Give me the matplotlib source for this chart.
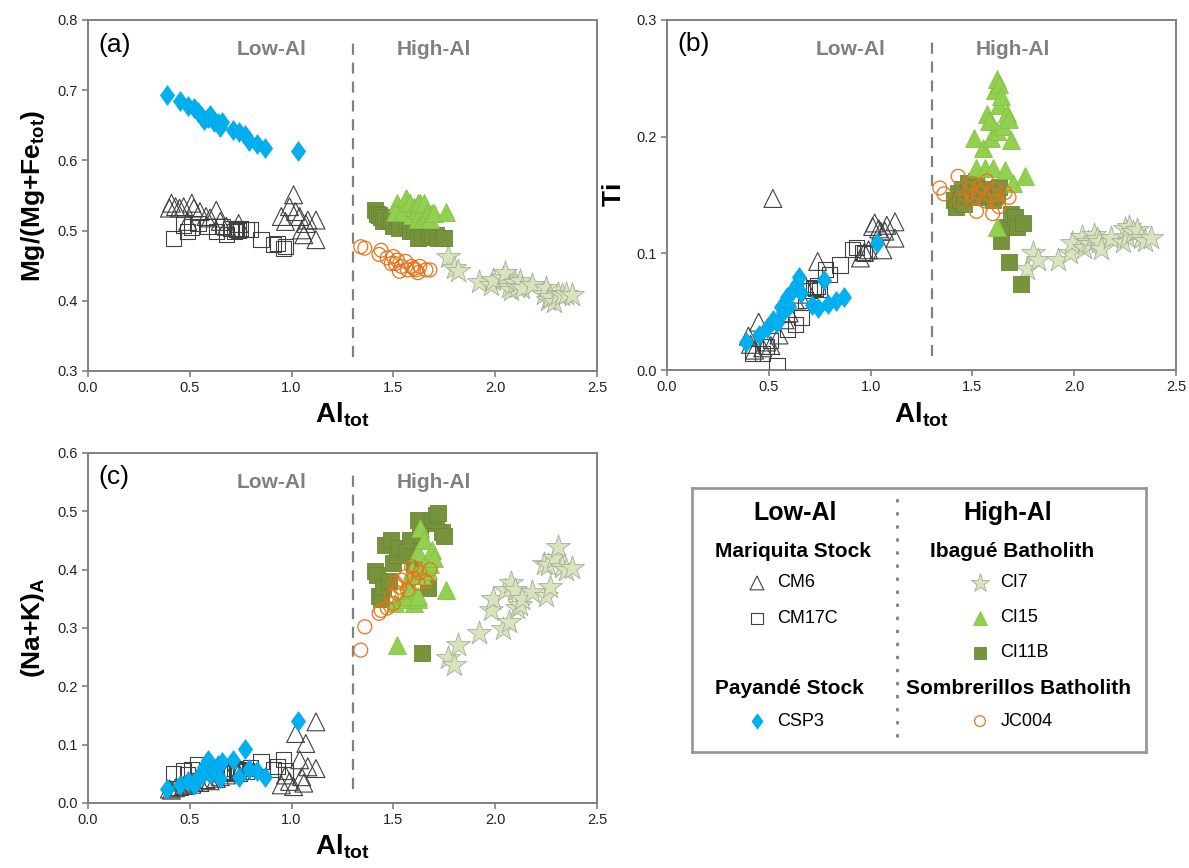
import matplotlib
matplotlib.use("Agg")
import matplotlib.pyplot as plt
from matplotlib.path import Path

plt.rcParams['font.family'] = ['Liberation Sans', 'DejaVu Sans']
plt.rcParams['mathtext.fontset'] = 'custom'
plt.rcParams['mathtext.rm'] = 'Liberation Sans'
plt.rcParams['mathtext.bf'] = 'Liberation Sans:bold'

# ---- Low-Al: Mariquita Stock ----
cm6_al = [0.40, 0.41, 0.43, 0.45, 0.47, 0.49, 0.51, 0.52, 0.55, 0.58, 0.60, 0.63, 0.65, 0.68,
          0.74, 0.95, 0.97, 0.99, 1.01, 1.02, 1.04, 1.05, 1.06, 1.07, 1.08, 1.12, 1.12]
cm6_mg = [0.532, 0.539, 0.534, 0.532, 0.534, 0.513, 0.539, 0.532, 0.527, 0.520, 0.518, 0.529, 0.513, 0.506,
          0.510, 0.520, 0.513, 0.534, 0.551, 0.527, 0.520, 0.501, 0.494, 0.510, 0.515, 0.515, 0.487]
cm6_ti = [0.029, 0.022, 0.017, 0.041, 0.019, 0.024, 0.021, 0.147, 0.030, 0.043, 0.049, 0.060, 0.065, 0.072,
          0.093, 0.096, 0.101, 0.103, 0.123, 0.126, 0.121, 0.119, 0.103, 0.119, 0.124, 0.127, 0.113]
cm6_nak = [0.024, 0.022, 0.026, 0.028, 0.030, 0.034, 0.032, 0.036, 0.035, 0.040, 0.038, 0.042, 0.045, 0.048,
           0.052, 0.031, 0.048, 0.037, 0.028, 0.119, 0.074, 0.045, 0.034, 0.102, 0.062, 0.139, 0.059]

cm17c_al = [0.42, 0.47, 0.49, 0.51, 0.54, 0.59, 0.63, 0.66, 0.68, 0.70, 0.72, 0.73, 0.74, 0.75,
            0.78, 0.80, 0.85, 0.91, 0.93, 0.96, 0.97]
cm17c_mg = [0.489, 0.508, 0.499, 0.505, 0.510, 0.506, 0.499, 0.506, 0.494, 0.503, 0.499, 0.501, 0.500, 0.503,
            0.501, 0.501, 0.487, 0.480, 0.482, 0.475, 0.477]
cm17c_ti = [0.014, 0.014, 0.020, 0.025, 0.004, 0.035, 0.039, 0.045, 0.060, 0.068, 0.071, 0.070, 0.072, 0.069,
            0.086, 0.082, 0.090, 0.103, 0.105, 0.101, 0.100]
cm17c_nak = [0.051, 0.055, 0.048, 0.058, 0.065, 0.055, 0.055, 0.050, 0.054, 0.052, 0.059, 0.055, 0.057, 0.054,
             0.055, 0.060, 0.071, 0.057, 0.062, 0.074, 0.055]

# ---- Low-Al: Payandé Stock ----
csp3_al = [0.39, 0.45, 0.49, 0.52, 0.54, 0.56, 0.57, 0.59, 0.60, 0.62, 0.64, 0.65, 0.66, 0.71,
           0.74, 0.77, 0.79, 0.83, 0.87, 1.03]
csp3_mg = [0.693, 0.684, 0.677, 0.674, 0.669, 0.662, 0.657, 0.660, 0.665, 0.655, 0.653, 0.648, 0.655, 0.643,
           0.641, 0.636, 0.627, 0.624, 0.617, 0.613]
csp3_ti = [0.024, 0.030, 0.036, 0.043, 0.040, 0.054, 0.050, 0.063, 0.055, 0.069, 0.074, 0.080, 0.066, 0.056,
           0.053, 0.077, 0.057, 0.059, 0.063, 0.109]
csp3_nak = [0.024, 0.031, 0.037, 0.031, 0.045, 0.048, 0.062, 0.074, 0.050, 0.054, 0.065, 0.042, 0.070, 0.074,
            0.045, 0.092, 0.059, 0.054, 0.045, 0.141]

# ---- High-Al: Ibagué Batholith ----
ci7_al = [1.77, 1.80, 1.82, 1.92, 1.98, 1.99, 2.04, 2.05, 2.07, 2.08, 2.10, 2.11, 2.12, 2.13,
          2.18, 2.24, 2.25, 2.26, 2.27, 2.29, 2.31, 2.33, 2.35, 2.38]
ci7_mg = [0.463, 0.446, 0.442, 0.427, 0.423, 0.430, 0.432, 0.440, 0.420, 0.415, 0.425, 0.420, 0.428, 0.418,
          0.423, 0.410, 0.418, 0.401, 0.405, 0.398, 0.410, 0.408, 0.410, 0.408]
ci7_ti = [0.087, 0.100, 0.094, 0.094, 0.100, 0.109, 0.114, 0.105, 0.110, 0.108, 0.116, 0.112, 0.110, 0.104,
          0.113, 0.110, 0.121, 0.114, 0.123, 0.118, 0.120, 0.113, 0.111, 0.113]
ci7_nak = [0.248, 0.237, 0.271, 0.291, 0.331, 0.350, 0.299, 0.365, 0.310, 0.377, 0.365, 0.334, 0.340, 0.350,
           0.362, 0.410, 0.354, 0.408, 0.370, 0.420, 0.439, 0.405, 0.400, 0.402]

ci15_al = [1.52, 1.51, 1.55, 1.56, 1.57, 1.58, 1.59, 1.60, 1.61, 1.62, 1.62, 1.62, 1.63, 1.63,
           1.64, 1.65, 1.66, 1.67, 1.68, 1.69, 1.70, 1.76]
ci15_mg = [0.539, 0.527, 0.527, 0.546, 0.540, 0.539, 0.522, 0.534, 0.529, 0.529, 0.539, 0.517, 0.539, 0.525,
           0.517, 0.539, 0.522, 0.525, 0.517, 0.525, 0.525, 0.527]
ci15_ti = [0.173, 0.199, 0.190, 0.173, 0.219, 0.213, 0.199, 0.173, 0.240, 0.249, 0.205, 0.123, 0.245, 0.227,
           0.235, 0.209, 0.171, 0.220, 0.215, 0.197, 0.160, 0.166]
ci15_nak = [0.271, 0.342, 0.350, 0.355, 0.380, 0.365, 0.400, 0.342, 0.390, 0.430, 0.350, 0.355, 0.471, 0.400,
            0.390, 0.450, 0.410, 0.400, 0.410, 0.434, 0.420, 0.365]

ci11b_al = [1.41, 1.42, 1.43, 1.44, 1.45, 1.46, 1.48, 1.49, 1.50, 1.52, 1.53, 1.56, 1.58, 1.60,
            1.62, 1.63, 1.64, 1.67, 1.68, 1.69, 1.71, 1.72, 1.74, 1.75]
ci11b_mg = [0.529, 0.524, 0.522, 0.519, 0.513, 0.520, 0.513, 0.515, 0.506, 0.513, 0.503, 0.510, 0.499, 0.500,
            0.489, 0.510, 0.491, 0.499, 0.491, 0.494, 0.494, 0.489, 0.489, 0.489]
ci11b_ti = [0.146, 0.140, 0.152, 0.146, 0.155, 0.142, 0.160, 0.150, 0.158, 0.162, 0.148, 0.155, 0.150, 0.146,
            0.150, 0.157, 0.111, 0.123, 0.093, 0.134, 0.131, 0.123, 0.074, 0.126]
ci11b_nak = [0.397, 0.390, 0.354, 0.350, 0.370, 0.442, 0.380, 0.451, 0.411, 0.425, 0.437, 0.430, 0.450, 0.405,
             0.485, 0.460, 0.257, 0.368, 0.480, 0.485, 0.494, 0.497, 0.465, 0.457]

# ---- High-Al: Sombrerillos Batholith ----
jc004_al = [1.34, 1.36, 1.43, 1.44, 1.47, 1.49, 1.50, 1.51, 1.52, 1.53, 1.54, 1.56, 1.57, 1.59,
            1.60, 1.61, 1.62, 1.63, 1.66, 1.68]
jc004_mg = [0.477, 0.475, 0.466, 0.472, 0.461, 0.453, 0.463, 0.453, 0.458, 0.442, 0.449, 0.456, 0.444, 0.449,
            0.446, 0.444, 0.440, 0.449, 0.444, 0.444]
jc004_ti = [0.156, 0.151, 0.166, 0.145, 0.150, 0.155, 0.160, 0.148, 0.136, 0.152, 0.158, 0.145, 0.162, 0.150,
            0.134, 0.155, 0.145, 0.140, 0.152, 0.148]
jc004_nak = [0.262, 0.302, 0.325, 0.330, 0.334, 0.354, 0.342, 0.377, 0.360, 0.370, 0.382, 0.388, 0.365, 0.405,
             0.385, 0.402, 0.377, 0.395, 0.380, 0.400]

# marker styles
diamond = Path([(0, 1), (0.72, 0), (0, -1), (-0.72, 0), (0, 1)],
               [Path.MOVETO, Path.LINETO, Path.LINETO, Path.LINETO, Path.CLOSEPOLY])
styles = {
    'CM6':   dict(marker='^', s=165, facecolors='none', edgecolors='#404040', linewidths=0.8),
    'CM17C': dict(marker='s', s=120, facecolors='none', edgecolors='#404040', linewidths=0.8),
    'CSP3':  dict(marker=diamond, s=200, facecolors='#00B0F0', edgecolors='#00A5E3', linewidths=0.5),
    'CI7':   dict(marker='*', s=330, facecolors='#D7E4BD', edgecolors='#A6AE98', linewidths=0.6),
    'CI11B': dict(marker='s', s=125, facecolors='#77933C', edgecolors='#6B8636', linewidths=0.6),
    'CI15':  dict(marker='^', s=165, facecolors='#92D050', edgecolors='#84C043', linewidths=0.6),
    'JC004': dict(marker='o', s=100, facecolors='none', edgecolors='#E8731A', linewidths=0.9),
}

samples = [
    ('CM6', cm6_al, cm6_mg, cm6_ti, cm6_nak),
    ('CM17C', cm17c_al, cm17c_mg, cm17c_ti, cm17c_nak),
    ('CSP3', csp3_al, csp3_mg, csp3_ti, csp3_nak),
    ('CI7', ci7_al, ci7_mg, ci7_ti, ci7_nak),
    ('CI11B', ci11b_al, ci11b_mg, ci11b_ti, ci11b_nak),
    ('CI15', ci15_al, ci15_mg, ci15_ti, ci15_nak),
    ('JC004', jc004_al, jc004_mg, jc004_ti, jc004_nak),
]

GRAY = '#808080'
fig = plt.figure(figsize=(11.89, 8.68), dpi=100)
ax_a = fig.add_axes([0.074, 0.5726, 0.428, 0.4044])
ax_b = fig.add_axes([0.561, 0.5737, 0.428, 0.4033])
ax_c = fig.add_axes([0.074, 0.0749, 0.428, 0.4033])

panels = [
    (ax_a, 1, (0.3, 0.8), 0.1, r'$\mathbf{Mg/(Mg{+}Fe_{tot})}$', '(a)'),
    (ax_b, 2, (0.0, 0.3), 0.1, r'$\mathbf{Ti}$', '(b)'),
    (ax_c, 3, (0.0, 0.6), 0.1, r'$\mathbf{(Na{+}K)_{A}}$', '(c)'),
]

for ax, col, ylim, ystep, ylabel, tag in panels:
    for name, *vals in samples:
        ax.scatter(vals[0], vals[col], zorder=3, **styles[name])
    ax.axvline(1.3, ymin=0.04, ymax=0.95, color=GRAY, lw=1.6, ls=(0, (5, 3.5)), zorder=1)
    ax.set_xlim(0, 2.5)
    ax.set_ylim(*ylim)
    ax.set_xticks([0.0, 0.5, 1.0, 1.5, 2.0, 2.5])
    n = int(round((ylim[1] - ylim[0]) / ystep))
    ax.set_yticks([ylim[0] + i * ystep for i in range(n + 1)])
    ax.xaxis.set_major_formatter(plt.FormatStrFormatter('%.1f'))
    ax.yaxis.set_major_formatter(plt.FormatStrFormatter('%.1f'))
    for sp in ax.spines.values():
        sp.set_color(GRAY)
        sp.set_linewidth(1.4)
    ax.tick_params(direction='out', length=4, width=1.2, color=GRAY, labelsize=10.5,
                   labelcolor='#222222')
    ax.set_xlabel(r'$\mathbf{Al_{tot}}$', fontsize=20, labelpad=4)
    ax.set_ylabel(ylabel, fontsize=19, labelpad=7)
    ax.text(0.02, 0.93, tag, transform=ax.transAxes, fontsize=19, va='center', ha='left')
    ax.text(0.36, 0.915, 'Low-Al', transform=ax.transAxes, fontsize=15, fontweight='bold',
            color=GRAY, ha='center', va='center')
    ax.text(0.68, 0.915, 'High-Al', transform=ax.transAxes, fontsize=15, fontweight='bold',
            color=GRAY, ha='center', va='center')

# legend box
lg = fig.add_axes([0.582, 0.1336, 0.382, 0.3044])
lg.set_xlim(0, 1)
lg.set_ylim(0, 1)
lg.set_xticks([])
lg.set_yticks([])
for sp in lg.spines.values():
    sp.set_color('#999999')
    sp.set_linewidth(2)
lg.plot([0.452, 0.452], [0.057, 0.96], color=GRAY, lw=2, ls=(0, (1.2, 3.5)))

lg.text(0.227, 0.905, 'Low-Al', fontsize=18, fontweight='bold', ha='center', va='center')
lg.text(0.696, 0.905, 'High-Al', fontsize=18, fontweight='bold', ha='center', va='center')
lg.text(0.222, 0.758, 'Mariquita Stock', fontsize=15, fontweight='bold', ha='center', va='center')
lg.text(0.705, 0.758, 'Ibagué Batholith', fontsize=15, fontweight='bold', ha='center', va='center')
lg.text(0.214, 0.242, 'Payandé Stock', fontsize=15, fontweight='bold', ha='center', va='center')
lg.text(0.718, 0.242, 'Sombrerillos Batholith', fontsize=15, fontweight='bold', ha='center', va='center')

entries = [
    ('CM6', 0.143, 0.640), ('CM17C', 0.143, 0.505), ('CSP3', 0.143, 0.117),
    ('CI7', 0.634, 0.640), ('CI15', 0.634, 0.508), ('CI11B', 0.634, 0.375), ('JC004', 0.634, 0.117),
]
for name, x, y in entries:
    st = dict(styles[name])
    st['s'] = st['s'] * 0.6
    lg.scatter([x], [y], **st)
    lg.text(x + 0.045, y, name, fontsize=13, ha='left', va='center')

fig.savefig('out.png', dpi=100)
